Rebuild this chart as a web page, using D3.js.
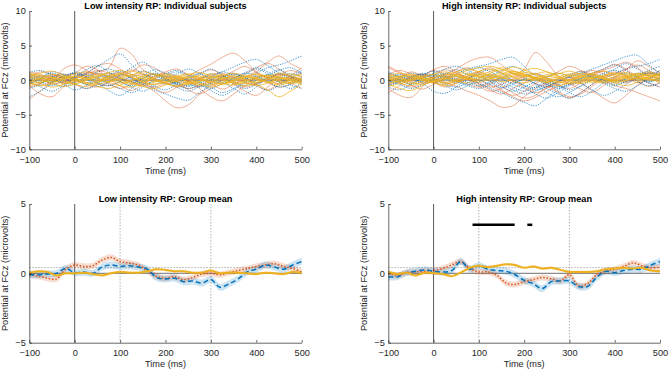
<!DOCTYPE html>
<html>
<head>
<meta charset="utf-8">
<script src="https://cdn.jsdelivr.net/npm/d3@7"></script>
<style>
body { margin: 0; background: #fff; }
text { font-family: "Liberation Sans", Arial, sans-serif; }
</style>
</head>
<body>
<svg id="vis-svg" width="669" height="370"></svg>
<script>
// ---- data ----
const xTicks = [-100, 0, 100, 200, 300, 400, 500];
const yTicksIndiv = [-10, -5, 0, 5, 10];
const yTicksGroup = [-5, 0, 5];

// individual subject traces, sampled every 25 ms
const tIndiv = [-100,-75,-50,-25,0,25,50,75,100,125,150,175,200,225,250,275,300,325,350,375,400,425,450,475,500];

const lowRed = [
  [0.3,0.6,0.2,-0.3,0.5,1.0,1.2,1.8,4.6,3.8,1.5,0.8,0.5,0.3,-0.2,0.2,0.6,0.3,-0.4,0.1,0.6,0.4,-0.2,0.3,0.2],
  [-0.5,0.2,0.8,0.4,-0.2,0.5,1.0,0.6,0.2,-0.3,-0.8,-1.6,-3.0,-4.0,-3.6,-2.0,-0.8,0.0,0.4,-0.3,-0.6,0.2,0.8,0.5,0.0],
  [0.8,0.2,-0.6,-0.2,0.5,1.2,0.8,0.3,0.9,1.5,1.0,0.2,-0.5,-0.2,0.6,1.5,2.3,3.3,3.9,2.8,1.2,0.4,0.8,1.4,0.9],
  [-0.3,-0.8,-0.2,0.6,1.0,0.4,-0.5,-0.8,-0.2,0.5,0.8,0.3,-0.4,-1.0,-0.6,0.2,0.8,1.0,0.4,0.9,1.8,2.6,3.5,2.4,1.6],
  [-2.8,-1.5,-0.3,1.6,2.2,1.5,0.4,-0.5,-1.2,-0.6,0.3,0.8,0.2,-0.6,-1.2,-0.8,0.1,0.6,-0.3,-1.0,-0.5,0.3,0.9,0.4,-0.2],
  [-0.8,-2.0,-2.4,-1.0,0.3,0.8,1.4,1.0,0.3,-0.2,-0.6,-1.0,-0.4,0.3,0.0,-1.2,-2.4,-3.0,-2.0,-0.8,0.2,-0.4,-1.0,-0.6,0.3],
  [1.2,0.8,0.2,-0.4,0.1,0.9,2.0,2.4,1.6,0.4,-0.3,0.2,1.0,0.6,-0.2,-0.9,-0.4,0.5,1.3,2.0,1.1,0.2,-0.5,0.2,1.0],
  [0.2,-0.4,0.5,0.9,0.2,-0.6,-1.0,-0.3,0.6,1.2,2.2,1.8,0.7,-0.2,-1.4,-2.0,-1.2,0.0,0.8,0.3,-0.8,-1.4,-0.5,0.6,1.8],
  [-1.0,-0.5,0.6,0.2,-0.6,-1.2,-0.5,0.6,1.1,0.4,-0.3,-1.2,-1.8,-1.0,0.0,0.8,1.5,0.7,-0.6,-1.6,-2.2,-1.0,0.4,-0.4,-1.2],
  [0.6,1.2,0.9,0.3,1.0,2.0,1.5,0.2,-0.8,-1.5,-0.6,0.5,1.2,1.6,0.8,0.2,-0.5,-1.3,-0.6,0.5,1.2,2.4,1.6,0.5,-0.3]
];
const lowBlue = [
  [0.2,-0.4,0.3,0.8,0.4,1.0,2.0,3.0,3.8,2.2,0.8,0.2,-0.6,-0.3,0.4,0.9,0.2,-0.5,0.2,1.0,0.6,-0.2,0.4,0.9,0.5],
  [-0.5,0.2,0.6,-0.1,-0.6,0.2,0.9,0.4,-0.3,-0.8,-0.2,0.6,0.1,-0.7,-1.2,-0.6,0.4,1.2,0.7,0.2,1.0,1.8,2.2,2.8,3.5],
  [-2.4,-1.6,-0.4,0.5,0.1,-0.6,-0.2,0.7,1.3,0.8,-0.1,-0.9,-1.4,-0.6,0.2,-0.4,-1.2,-0.5,0.3,1.1,1.8,1.2,0.3,-0.4,0.2],
  [0.6,0.1,-0.5,-0.9,-0.3,0.4,1.2,1.6,1.0,0.2,-0.6,-1.4,-2.0,-2.6,-2.9,-1.8,-0.6,0.3,0.9,0.4,-0.4,0.2,1.0,0.6,-0.2],
  [0.9,0.4,-0.2,0.3,1.0,0.6,-0.3,-0.8,-0.2,0.6,1.3,0.8,0.0,-0.5,-0.9,-0.3,0.5,1.2,1.9,2.6,3.0,2.1,1.0,0.2,-0.5],
  [-0.3,-1.0,-1.6,-0.8,0.2,0.8,0.3,-0.6,-1.2,-1.8,-1.0,0.1,0.9,1.4,0.7,-0.2,-1.0,-1.8,-1.2,-0.3,0.5,-0.2,-1.0,-0.6,0.4],
  [1.1,1.4,0.6,-0.2,0.4,1.5,2.1,1.2,0.2,-0.4,0.3,1.0,0.5,-0.3,-0.8,0.1,0.9,0.4,-0.5,-1.2,-0.6,0.5,1.4,1.8,1.0],
  [0.0,0.5,1.0,0.4,-0.5,-1.2,-0.7,0.2,0.8,0.3,-0.5,-0.2,0.6,1.2,0.5,-0.6,-1.5,-2.2,-1.4,-0.4,0.3,0.8,0.2,-0.7,-1.2],
  [-1.2,-0.6,0.2,-0.5,-1.4,-0.8,0.4,1.0,0.5,-0.2,0.6,1.5,1.0,0.1,-0.5,-1.0,-0.4,0.5,1.0,0.3,-0.6,-1.5,-0.8,0.2,1.2],
  [0.4,-0.2,-0.8,0.2,1.2,0.5,-0.4,-1.5,-2.2,-1.2,0.2,0.9,0.3,-0.4,0.3,1.0,1.6,0.8,-0.2,-0.8,0.0,0.8,1.5,0.6,-0.5],
  [-0.6,0.3,1.2,0.8,0.0,-0.4,0.3,0.6,-0.2,-1.0,-1.6,-0.8,0.3,0.9,1.6,1.0,0.2,-0.3,-1.2,-2.0,-1.0,0.2,-0.2,0.6,1.4],
  [0.5,0.0,-0.3,0.6,0.9,0.2,-0.9,-0.2,0.7,1.8,2.6,1.4,0.2,-1.0,-1.6,-0.9,0.0,0.6,0.2,0.8,1.6,0.9,-0.3,-1.2,-0.4]
];
const lowYellow = [
  [0.6,1.0,1.3,0.7,0.2,-0.3,-0.6,-0.2,0.4,0.8,0.5,0.1,-0.3,-0.1,0.3,0.6,0.2,-0.4,-0.7,-0.2,0.3,0.7,0.4,0.0,0.3],
  [-0.4,-0.8,-0.5,0.2,0.5,0.2,0.0,0.6,1.0,0.5,-0.2,-0.6,-0.3,0.2,0.5,0.2,-0.3,-0.6,-0.2,0.4,0.8,0.3,-0.2,-0.5,-0.2],
  [0.2,0.0,-0.4,-0.9,-0.6,0.0,0.5,0.9,0.4,-0.3,-0.9,-1.2,-0.7,0.0,0.4,0.1,-0.3,0.2,0.6,0.2,-0.6,-1.4,-2.4,-1.6,-0.6],
  [1.0,0.6,0.1,0.4,0.9,1.2,0.7,0.1,-0.4,0.0,0.6,0.9,0.5,0.0,-0.4,-0.2,0.4,0.8,0.5,0.0,-0.3,0.1,0.6,0.9,0.5],
  [-0.8,-0.4,0.2,0.6,0.2,-0.4,-0.9,-1.2,-0.7,-0.1,0.3,0.0,-0.5,-0.9,-0.5,0.1,0.5,0.2,-0.4,-0.8,-0.4,0.2,0.5,0.1,-0.4],
  [0.3,0.7,0.4,-0.2,-0.5,0.0,0.6,1.1,1.4,0.8,0.2,-0.2,0.1,0.6,0.9,0.4,-0.2,-0.5,0.0,0.5,0.9,0.5,0.0,-0.3,0.0],
  [-0.2,0.3,0.0,-0.5,-0.2,0.4,0.2,-0.3,-0.8,-1.0,-0.4,0.3,0.7,0.4,-0.2,-0.6,-1.0,-0.6,0.0,0.4,0.2,-0.3,-0.7,-0.3,0.2],
  [0.0,-0.5,-1.0,-0.6,0.1,0.7,0.3,-0.2,0.2,0.7,1.2,0.8,0.3,-0.2,-0.6,-0.2,0.3,0.7,1.0,0.6,0.1,-0.3,0.1,0.5,0.8],
  [0.5,0.1,-0.3,0.1,0.6,0.3,-0.2,0.2,0.8,0.4,-0.3,-0.6,-0.2,0.4,0.8,1.1,0.6,0.0,-0.4,-0.1,0.4,0.7,0.3,-0.1,-0.6],
  [-0.6,-0.2,0.4,0.0,-0.6,-0.9,-0.4,0.2,0.0,-0.5,-0.8,-0.3,0.3,0.6,0.2,-0.4,-0.7,-0.3,0.3,0.6,0.3,-0.2,-0.5,0.0,0.6],
  [0.9,0.4,-0.1,0.3,0.0,-0.5,-0.2,0.5,0.9,1.3,0.8,0.2,-0.4,-0.8,-0.3,0.4,0.9,0.5,-0.2,-0.5,-0.1,0.5,1.0,0.6,0.1],
  [-0.3,0.2,0.8,0.5,-0.1,0.2,0.9,0.5,-0.2,-0.6,-0.1,0.5,0.9,0.4,-0.3,-0.7,-0.2,0.4,0.2,-0.3,-0.8,-0.4,0.3,0.2,-0.3]
];

const highRed = [
  [1.8,1.0,0.2,0.6,1.4,0.8,-0.2,0.3,1.2,1.8,1.0,0.4,1.6,4.0,2.6,0.6,-0.6,-0.2,0.8,1.3,0.6,-0.2,0.4,1.0,0.6],
  [-0.6,-0.2,0.5,0.9,0.4,0.8,1.6,2.6,3.2,3.3,2.2,1.0,0.2,-0.5,-1.0,-0.6,0.2,0.8,1.4,0.9,0.2,-0.4,0.3,1.1,0.8],
  [0.3,-0.4,-1.0,-0.5,0.2,-0.3,-0.9,-1.6,-2.2,-3.0,-3.9,-3.7,-2.4,-1.2,-0.4,0.2,-0.5,-1.3,-1.8,-0.8,0.3,0.6,-0.2,-0.9,-0.4],
  [-1.2,-2.2,-2.5,-1.0,0.6,1.5,1.0,0.2,-0.6,-1.4,-2.0,-1.2,-0.4,0.3,-0.5,-1.6,-2.4,-2.0,-0.9,0.2,0.9,1.6,2.2,1.4,0.6],
  [2.0,1.2,0.3,-0.4,-0.2,0.6,0.2,-0.6,-1.0,-0.4,0.3,-0.2,-1.0,-1.8,-1.2,-0.2,0.4,-0.4,-1.5,-2.6,-3.3,-2.2,-0.8,0.2,-0.4],
  [-1.8,-0.8,0.4,0.8,0.2,-0.5,-0.2,0.6,1.2,0.5,-0.8,-1.8,-2.6,-2.2,-1.0,-0.3,0.6,1.3,0.8,0.0,-0.8,-1.2,-1.8,-2.4,-3.0],
  [0.8,1.4,0.9,0.2,-0.4,0.3,1.2,1.8,1.0,-0.2,-1.4,-2.2,-1.6,-0.5,0.4,1.2,2.0,1.4,0.4,-0.4,0.4,1.5,2.8,2.0,1.0],
  [-0.5,0.4,1.2,0.6,-0.3,-1.0,-0.5,0.2,0.0,-0.8,-1.6,-2.4,-3.0,-2.5,-1.6,-0.9,-0.2,0.6,1.0,1.6,2.3,1.6,0.5,-0.4,-1.0],
  [0.4,0.0,-0.7,-1.3,-0.6,0.3,0.8,0.4,-0.4,-1.0,-0.6,0.2,0.8,0.3,-0.8,-1.8,-2.6,-1.8,-0.6,0.5,1.2,0.6,-0.4,0.2,1.4],
  [1.0,0.4,-0.2,0.5,1.5,2.0,1.2,0.2,-0.9,-1.6,-1.2,-0.2,0.5,1.0,0.2,-0.7,-1.2,-0.4,0.6,1.4,2.0,2.6,1.8,0.6,0.2]
];
const highBlue = [
  [0.2,-0.3,0.4,1.0,0.6,0.2,0.9,1.6,2.0,2.4,3.0,3.3,2.0,0.6,-0.4,-1.0,-0.5,0.2,0.8,0.4,-0.2,0.3,1.0,0.6,0.2],
  [-0.4,0.2,0.6,0.2,-0.3,0.1,0.6,0.2,-0.5,-1.2,-1.8,-2.6,-3.2,-3.7,-2.6,-1.4,-0.6,0.2,0.6,0.2,-0.4,0.2,0.9,1.2,0.8],
  [0.6,0.0,-0.6,-0.2,0.5,1.0,0.5,-0.3,-0.8,-0.2,0.4,0.0,-0.8,-1.4,-0.9,-0.2,0.5,1.0,1.6,2.2,2.8,3.4,3.6,2.2,1.0],
  [-0.8,-0.3,0.4,-0.4,-1.6,-1.9,-1.0,0.2,0.8,0.4,-0.3,-1.0,-1.6,-1.0,-0.3,-0.8,-1.8,-2.4,-1.6,-0.4,0.5,1.0,0.4,-0.2,0.3],
  [0.3,0.8,0.4,-0.2,0.2,0.9,1.5,0.8,0.0,-0.6,-1.1,-0.6,0.1,-0.5,-1.2,-2.0,-2.6,-1.8,-0.6,0.3,1.0,1.6,2.0,2.4,3.0],
  [-1.0,-1.4,-0.6,0.3,0.8,0.4,-0.2,-0.8,-1.2,-0.6,0.3,1.0,0.4,-0.6,-1.8,-2.4,-1.8,-0.8,0.2,1.0,1.4,0.8,-0.2,-0.8,-0.4],
  [0.9,0.5,0.0,0.5,1.0,1.6,2.0,1.4,0.6,0.0,-0.6,-1.4,-2.0,-1.6,-0.9,-0.2,0.4,0.9,0.4,-0.3,-0.8,-0.2,0.6,1.4,2.0],
  [0.0,-0.6,-1.2,-0.7,0.0,0.5,0.0,-0.6,-0.2,0.6,1.4,2.0,1.2,0.2,-0.6,-1.2,-0.6,0.3,1.0,1.6,2.2,1.4,0.4,-0.3,0.4],
  [-0.3,0.4,1.0,0.6,-0.2,-0.8,-1.4,-0.8,0.2,0.8,0.2,-0.6,-1.2,-2.0,-2.6,-1.8,-0.8,-0.2,0.4,0.0,-0.6,-0.2,0.6,1.0,0.6],
  [0.5,0.1,-0.4,0.2,0.8,0.3,-0.4,0.2,1.0,1.5,0.9,0.0,-0.7,-1.1,-0.6,0.2,0.8,1.2,0.6,-0.4,-1.2,-1.6,-0.8,0.2,0.9],
  [-0.7,-0.2,0.3,0.8,0.3,-0.5,-1.0,-0.4,0.4,-0.2,-1.0,-1.6,-1.0,-0.2,0.5,1.0,0.5,-0.4,-1.4,-2.2,-1.6,-0.6,0.2,-0.4,-1.0],
  [1.2,0.6,0.2,0.8,1.3,0.6,0.2,1.0,1.8,1.2,0.2,-0.4,0.2,0.9,0.4,-0.6,-1.4,-0.9,0.0,0.8,1.6,2.4,1.6,0.8,1.4]
];
const highYellow = [
  [0.5,0.2,-0.3,-0.6,-0.2,0.4,0.9,1.4,1.8,2.0,1.6,1.0,0.6,0.9,1.2,0.6,0.0,-0.3,0.2,0.7,1.0,0.6,0.2,0.5,0.8],
  [-0.6,-1.2,-1.5,-0.8,0.0,0.3,-0.2,0.2,0.8,1.2,1.8,1.4,0.8,0.4,0.2,0.5,0.9,0.6,0.1,-0.2,0.2,0.6,1.0,0.7,0.3],
  [0.3,0.6,0.4,0.0,-0.4,-0.6,-0.1,0.5,0.9,0.6,0.2,0.6,1.1,0.8,0.3,-0.2,-0.5,-0.1,0.4,0.2,-0.3,-0.1,0.4,0.9,0.5],
  [0.8,0.4,0.0,0.4,0.9,1.2,0.8,0.3,0.0,0.5,1.2,1.9,1.5,0.8,0.2,-0.2,0.1,0.6,1.0,1.3,0.8,0.3,0.0,0.4,0.9],
  [-0.2,0.3,0.7,0.3,-0.3,-0.8,-0.4,0.2,0.6,0.3,-0.2,0.1,0.6,0.3,-0.3,-0.8,-0.4,0.1,0.5,0.2,-0.4,-0.8,-0.3,0.2,0.0],
  [0.1,-0.4,-0.8,-0.3,0.3,0.7,1.2,1.6,1.2,0.7,0.4,0.8,1.4,1.7,1.2,0.5,0.0,0.4,0.9,0.5,0.0,0.3,0.8,1.2,0.6],
  [0.6,1.0,0.6,0.1,-0.2,0.1,0.5,0.2,-0.3,0.2,0.9,1.3,0.8,0.2,-0.2,0.2,0.6,1.0,0.7,0.2,-0.1,0.3,0.7,0.3,-0.3],
  [-0.5,-0.1,0.3,0.6,0.2,-0.3,0.0,0.6,1.3,1.6,1.1,0.5,0.0,0.4,0.8,1.0,0.6,0.1,-0.3,0.0,0.5,0.9,0.5,0.0,0.4],
  [0.2,-0.2,0.1,0.5,0.8,0.4,-0.1,-0.4,0.2,0.8,0.5,-0.1,-0.4,0.1,0.6,0.3,-0.2,-0.5,-0.1,0.4,0.8,1.1,0.6,0.1,-0.2],
  [-0.9,-0.5,0.0,0.3,0.0,-0.4,0.2,0.8,0.5,0.0,0.4,1.0,0.7,0.2,0.5,0.9,1.3,0.8,0.3,0.6,1.0,0.7,0.2,0.5,1.0],
  [0.4,0.0,-0.5,0.0,0.4,0.9,0.6,0.1,0.4,1.0,1.5,1.0,0.4,0.0,-0.3,0.2,0.7,0.4,-0.1,-0.4,0.0,0.5,0.9,0.6,0.2],
  [0.0,0.5,0.9,0.4,-0.2,0.2,0.7,1.0,0.6,0.3,0.7,1.2,0.9,0.4,0.0,-0.4,0.0,0.5,0.8,0.4,-0.2,0.0,0.4,0.8,0.3]
];

// group means, sampled every 20 ms
const tGroup = [-100,-80,-60,-40,-20,0,20,40,60,80,100,120,140,160,180,200,220,240,260,280,300,320,340,360,380,400,420,440,460,480,500];

const lowMeanRed    = [-0.1,-0.2,-0.35,-0.4,0.3,0.6,0.5,0.55,0.95,1.15,0.85,0.75,0.6,0.2,-0.2,-0.35,-0.25,-0.45,-0.3,-0.05,0.0,-0.1,0.05,0.2,0.35,0.5,0.6,0.7,0.5,0.35,0.1];
const lowMeanBlue   = [-0.1,-0.1,-0.05,0.0,0.35,0.05,0.1,0.0,0.45,0.6,0.5,0.55,0.45,0.3,-0.3,-0.4,-0.35,-0.6,-0.55,-0.7,-0.45,-1.0,-0.75,-0.4,0.1,0.3,0.6,0.45,0.3,0.6,0.85];
const lowMeanYellow = [0.05,0.15,0.1,-0.15,0.0,0.0,0.05,-0.05,-0.15,0.0,0.1,0.05,0.05,0.15,0.3,0.25,0.15,0.15,0.05,0.05,0.2,0.0,0.05,0.05,0.0,-0.05,0.05,0.0,-0.05,0.1,0.05];

const highMeanRed    = [0.0,-0.15,0.05,0.1,0.15,0.2,0.35,0.6,0.85,0.35,0.1,0.1,-0.15,-0.7,-0.8,-0.6,-0.45,-0.3,-0.4,-0.55,-0.1,-0.9,-0.75,-0.1,0.15,0.3,0.5,0.75,0.55,0.4,0.45];
const highMeanBlue   = [-0.25,-0.25,0.05,0.15,0.25,0.15,0.1,0.2,0.85,0.3,0.55,0.3,0.2,0.15,-0.1,-0.5,-0.75,-1.1,-0.6,-0.55,-0.55,-0.95,-0.95,-0.3,0.15,0.05,0.2,0.3,0.3,0.6,0.85];
const highMeanYellow = [0.1,-0.05,0.05,-0.15,0.05,0.0,-0.05,-0.2,0.05,0.4,0.55,0.45,0.55,0.65,0.6,0.4,0.5,0.35,0.4,0.25,0.1,0.1,0.1,0.15,0.3,0.35,0.4,0.35,0.4,0.2,0.15];

// standard-error half widths of the shaded bands
const semRed = 0.22, semBlue = 0.25, semYellow = 0.1;

// threshold line and significant clusters (ms)
const thresholdLevel = 0.42;
const sigClusters = [[86, 179], [207, 218]];
const sigLevel = 3.5;

// ---- layout ----
const svg = d3.select("#vis-svg");
const colRed = "#D95319", colBlue = "#0072BD", colYellow = "#EDB120";
const axisColor = "#262626";
const fontSize = 9.2;

const panels = [
  {left: 29.3, right: 301.7, top: 11, bottom: 149.3, kind: "indiv", title: "Low intensity RP: Individual subjects",
   red: lowRed, blue: lowBlue, yellow: lowYellow},
  {left: 388.3, right: 660, top: 11, bottom: 149.3, kind: "indiv", title: "High intensity RP: Individual subjects",
   red: highRed, blue: highBlue, yellow: highYellow},
  {left: 29.3, right: 301.7, top: 204, bottom: 342.7, kind: "group", title: "Low intensity RP: Group mean",
   red: lowMeanRed, blue: lowMeanBlue, yellow: lowMeanYellow, sig: []},
  {left: 388.3, right: 660, top: 204, bottom: 342.7, kind: "group", title: "High intensity RP: Group mean",
   red: highMeanRed, blue: highMeanBlue, yellow: highMeanYellow, sig: sigClusters}
];

const drawPanel = p => {
  const g = svg.append("g");
  const x = d3.scaleLinear().domain([-100, 500]).range([p.left, p.right]);
  const yDom = p.kind === "indiv" ? [-10, 10] : [-5, 5];
  const y = d3.scaleLinear().domain(yDom).range([p.bottom, p.top]);

  // reference lines
  g.append("line")
    .attr("x1", x(-100)).attr("x2", x(500)).attr("y1", y(0)).attr("y2", y(0))
    .attr("stroke", "#8c8c8c").attr("stroke-width", 1.2);

  if (p.kind === "group") {
    [100, 300].forEach(t => {
      g.append("line")
        .attr("x1", x(t)).attr("x2", x(t)).attr("y1", y(5)).attr("y2", y(-5))
        .attr("stroke", "#a0a0a0").attr("stroke-width", 0.8).attr("stroke-dasharray", "1.5,1.5");
    });
    g.append("line")
      .attr("x1", x(-100)).attr("x2", x(500)).attr("y1", y(thresholdLevel)).attr("y2", y(thresholdLevel))
      .attr("stroke", "#a0a0a0").attr("stroke-width", 0.8).attr("stroke-dasharray", "1.5,1.5");
  }

  g.append("line")
    .attr("x1", x(0)).attr("x2", x(0)).attr("y1", y(yDom[1])).attr("y2", y(yDom[0]))
    .attr("stroke", "#5a5a5a").attr("stroke-width", 1);

  if (p.kind === "indiv") {
    const line = d3.line().x((d, i) => x(tIndiv[i])).y(d => y(d)).curve(d3.curveCatmullRom);
    p.red.forEach(s => g.append("path").attr("d", line(s)).attr("fill", "none")
      .attr("stroke", colRed).attr("stroke-opacity", 0.5).attr("stroke-width", 0.9));
    p.blue.forEach(s => g.append("path").attr("d", line(s)).attr("fill", "none")
      .attr("stroke", colBlue).attr("stroke-opacity", 0.8).attr("stroke-width", 0.9)
      .attr("stroke-dasharray", "1.2,1.2"));
    p.yellow.forEach(s => g.append("path").attr("d", line(s)).attr("fill", "none")
      .attr("stroke", colYellow).attr("stroke-opacity", 0.85).attr("stroke-width", 0.9));
  } else {
    const series = [
      {v: p.yellow, c: colYellow, sem: semYellow, w: 2, dash: null},
      {v: p.red, c: colRed, sem: semRed, w: 1.5, dash: "1.5,1.8"},
      {v: p.blue, c: colBlue, sem: semBlue, w: 1.5, dash: "5,3"}
    ];
    series.forEach(s => {
      const area = d3.area().x((d, i) => x(tGroup[i]))
        .y0(d => y(d - s.sem)).y1(d => y(d + s.sem)).curve(d3.curveCatmullRom);
      g.append("path").attr("d", area(s.v)).attr("fill", s.c).attr("fill-opacity", 0.2);
    });
    const line = d3.line().x((d, i) => x(tGroup[i])).y(d => y(d)).curve(d3.curveCatmullRom);
    [series[1], series[2], series[0]].forEach(s => {
      const path = g.append("path").attr("d", line(s.v)).attr("fill", "none")
        .attr("stroke", s.c).attr("stroke-width", s.w);
      if (s.dash) path.attr("stroke-dasharray", s.dash);
    });
    p.sig.forEach(c => {
      g.append("line")
        .attr("x1", x(c[0])).attr("x2", x(c[1])).attr("y1", y(sigLevel)).attr("y2", y(sigLevel))
        .attr("stroke", "#000").attr("stroke-width", 2.5);
    });
  }

  // axes (MATLAB style, ticks pointing in, no box)
  const xAxis = d3.axisBottom(x).tickValues(xTicks).tickSize(-2.7).tickSizeOuter(0).tickPadding(7);
  const yAxis = d3.axisLeft(y).tickValues(p.kind === "indiv" ? yTicksIndiv : yTicksGroup)
    .tickSize(-2.7).tickSizeOuter(0).tickPadding(3.5);
  [g.append("g").attr("transform", `translate(0,${p.bottom})`).call(xAxis),
   g.append("g").attr("transform", `translate(${p.left},0)`).call(yAxis)].forEach(a => {
    a.selectAll("path").attr("stroke", axisColor).attr("stroke-width", 0.7);
    a.selectAll("line").attr("stroke", axisColor).attr("stroke-width", 0.7);
    a.selectAll("text").attr("fill", axisColor).style("font-size", fontSize + "px")
      .style("font-family", '"Liberation Sans", Arial, sans-serif');
  });

  // labels
  g.append("text").attr("x", (p.left + p.right) / 2).attr("y", p.bottom + 24.2)
    .attr("text-anchor", "middle").attr("fill", axisColor).style("font-size", fontSize + "px")
    .text("Time (ms)");
  g.append("text")
    .attr("transform", `translate(${p.left - 21},${(p.top + p.bottom) / 2}) rotate(-90)`)
    .attr("text-anchor", "middle").attr("fill", axisColor).style("font-size", fontSize + "px")
    .text("Potential at FCz (microvolts)");
  g.append("text").attr("x", (p.left + p.right) / 2).attr("y", p.top - 2)
    .attr("text-anchor", "middle").attr("fill", "#000").style("font-size", "9.2px")
    .style("font-weight", "bold").text(p.title);
};

panels.forEach(drawPanel);
</script>
</body>
</html>
